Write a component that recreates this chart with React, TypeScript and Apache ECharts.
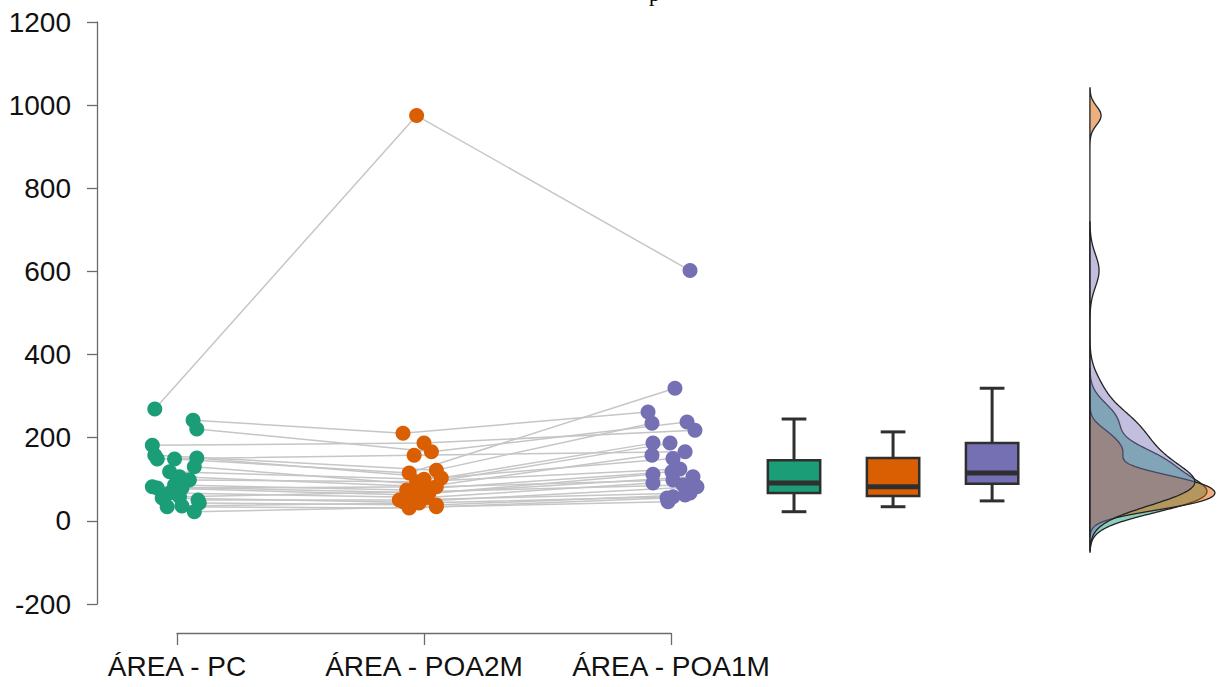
import React, { useEffect, useRef } from 'react';
import * as echarts from 'echarts';

// ---------- data ----------
const categories = ['ÁREA - PC', 'ÁREA - POA2M', 'ÁREA - POA1M'];
const yMin = -200;
const yMax = 1200;
const yStep = 200;

// one entry per subject (same index = same subject, joined by a grey line)
const pcValues = [269, 242, 221, 182, 158, 151, 149, 149, 130, 118, 106, 98, 86, 82, 79, 79, 67, 58, 55, 50, 43, 36, 34, 22];
const pcJitter = [-0.09, 0.065, 0.08, -0.1, -0.09, 0.08, -0.08, -0.01, 0.07, -0.03, 0.01, 0.05, -0.01, -0.1, -0.08, 0.02, -0.03, 0.01, -0.06, 0.085, 0.09, 0.02, -0.04, 0.07];
const poa2mValues = [975, 211, 166, 187, 122, 103, 158, 115, 88, 100, 82, 94, 74, 67, 62, 82, 56, 70, 45, 50, 38, 43, 31, 34];
const poa2mJitter = [-0.03, -0.085, 0.03, 0, 0.05, 0.07, -0.04, -0.06, -0.02, 0, 0.01, -0.03, -0.07, 0.02, -0.05, 0.05, 0.01, -0.03, -0.08, -0.1, 0.05, -0.02, -0.06, 0.05];
const poa1mValues = [602, 262, 238, 218, 235, 187, 166, 319, 187, 150, 158, 125, 118, 106, 112, 98, 91, 86, 82, 67, 62, 58, 55, 46];
const poa1mJitter = [0.077, -0.093, 0.065, 0.097, -0.077, -0.073, 0.057, 0.016, -0.004, 0.008, -0.077, 0.036, 0.004, 0.089, -0.073, 0.008, -0.073, 0.049, 0.105, 0.077, 0.057, 0.008, -0.016, -0.012];

// box plot stats: [lower whisker, Q1, median, Q3, upper whisker]
const pcBox = [22, 67, 91, 146, 245];
const poa2mBox = [34, 60, 82, 151, 214];
const poa1mBox = [48, 89, 115, 187, 319];

// ---------- layout / style ----------
const colors = ['#1b9e77', '#d95f02', '#7570b3'];
const densityFill = ['rgba(27,158,119,0.5)', 'rgba(217,95,2,0.5)', 'rgba(117,112,179,0.45)'];
const xMinU = 0.676;
const xMaxU = 5.2227;
const boxX = [3.498, 3.899, 4.3];
const boxW = 0.212;
const capW = 0.1;
const densBase = 4.696;
const densPeakW = [0.474, 0.506, 0.425];
const FONT = '"Liberation Sans", Arial, sans-serif';

const groups = [
  { values: pcValues, jitter: pcJitter, box: pcBox },
  { values: poa2mValues, jitter: poa2mJitter, box: poa2mBox },
  { values: poa1mValues, jitter: poa1mJitter, box: poa1mBox },
];

// ---------- kernel density (R density() default: gaussian, bw.nrd0, cut = 3) ----------
function quantile(sorted: number[], p: number) {
  const h = (sorted.length - 1) * p;
  const lo = Math.floor(h);
  const hi = Math.min(lo + 1, sorted.length - 1);
  return sorted[lo] + (h - lo) * (sorted[hi] - sorted[lo]);
}
function bwNrd0(x: number[]) {
  const n = x.length;
  const mean = x.reduce((a, b) => a + b, 0) / n;
  const sd = Math.sqrt(x.reduce((a, b) => a + (b - mean) ** 2, 0) / (n - 1));
  const s = [...x].sort((a, b) => a - b);
  const iqr = quantile(s, 0.75) - quantile(s, 0.25);
  const lo = Math.min(sd, iqr / 1.34);
  return 0.9 * lo * Math.pow(n, -0.2);
}
function kde(x: number[]) {
  const bw = bwNrd0(x);
  const from = Math.min(...x) - 3 * bw;
  const to = Math.max(...x) + 3 * bw;
  const N = 300;
  const out: [number, number][] = [];
  const k = 1 / (x.length * bw * Math.sqrt(2 * Math.PI));
  for (let i = 0; i < N; i++) {
    const y = from + ((to - from) * i) / (N - 1);
    let s = 0;
    for (const xi of x) s += Math.exp(-0.5 * ((y - xi) / bw) ** 2);
    out.push([y, s * k]);
  }
  return out;
}

export default function App() {
  const ref = useRef<HTMLDivElement>(null);
  useEffect(() => {
    if (!ref.current) return;
    const chart = echarts.init(ref.current, null, { renderer: 'svg' });

    const dens = groups.map((g) => kde(g.values));
    const dScale = dens.map((d, i) => densPeakW[i] / Math.max(...d.map((p) => p[1])));

    const lineSeries = pcValues.map((_, i) => ({
      type: 'line',
      xAxisIndex: 0,
      yAxisIndex: 0,
      silent: true,
      symbol: 'none',
      z: 1,
      lineStyle: { color: '#c6c6c6', width: 1.5 },
      data: groups.map((g, gi) => [gi + 1 + g.jitter[i], g.values[i]]),
    }));

    const scatterSeries = groups.map((g, gi) => ({
      type: 'scatter',
      xAxisIndex: 0,
      yAxisIndex: 0,
      symbolSize: 15,
      z: 3,
      itemStyle: { color: colors[gi], opacity: 1 },
      data: g.values.map((v, i) => [gi + 1 + g.jitter[i], v]),
    }));

    const boxSeries = {
      type: 'custom',
      xAxisIndex: 0,
      yAxisIndex: 0,
      z: 4,
      clip: false,
      data: groups.map((g) => g.box),
      renderItem: (params: any, api: any) => {
        const i = params.dataIndex;
        const x = boxX[i];
        const lo = api.value(0), q1 = api.value(1), med = api.value(2), q3 = api.value(3), hi = api.value(4);
        const pLo = api.coord([x, lo]);
        const pQ1 = api.coord([x, q1]);
        const pMed = api.coord([x, med]);
        const pQ3 = api.coord([x, q3]);
        const pHi = api.coord([x, hi]);
        const hw = api.size([boxW, 0])[0] / 2;
        const cw = api.size([capW, 0])[0] / 2;
        const stroke = '#2f2f2f';
        return {
          type: 'group',
          children: [
            { type: 'line', shape: { x1: pQ3[0], y1: pQ3[1], x2: pHi[0], y2: pHi[1] }, style: { stroke, lineWidth: 3 } },
            { type: 'line', shape: { x1: pQ1[0], y1: pQ1[1], x2: pLo[0], y2: pLo[1] }, style: { stroke, lineWidth: 3 } },
            { type: 'line', shape: { x1: pHi[0] - cw, y1: pHi[1], x2: pHi[0] + cw, y2: pHi[1] }, style: { stroke, lineWidth: 3 } },
            { type: 'line', shape: { x1: pLo[0] - cw, y1: pLo[1], x2: pLo[0] + cw, y2: pLo[1] }, style: { stroke, lineWidth: 3 } },
            {
              type: 'rect',
              shape: { x: pQ3[0] - hw, y: pQ3[1], width: hw * 2, height: pQ1[1] - pQ3[1] },
              style: { fill: colors[i], stroke, lineWidth: 2.5 },
            },
            { type: 'line', shape: { x1: pMed[0] - hw, y1: pMed[1], x2: pMed[0] + hw, y2: pMed[1] }, style: { stroke, lineWidth: 5 } },
          ],
        };
      },
    };

    const densitySeries = {
      type: 'custom',
      xAxisIndex: 0,
      yAxisIndex: 0,
      z: 2,
      clip: false,
      data: groups.map((_, i) => [i]),
      renderItem: (params: any, api: any) => {
        const i = params.dataIndex;
        const d = dens[i];
        const pts: number[][] = [];
        pts.push(api.coord([densBase, d[0][0]]));
        for (const [y, v] of d) pts.push(api.coord([densBase + v * dScale[i], y]));
        pts.push(api.coord([densBase, d[d.length - 1][0]]));
        return {
          type: 'polygon',
          shape: { points: pts },
          style: { fill: densityFill[i], stroke: '#222', lineWidth: 1.3 },
        };
      },
    };

    chart.setOption({
      animation: false,
      backgroundColor: '#ffffff',
      grid: [
        { left: 97, top: 22, width: 1220 - 97, height: 582 },
        { left: 177, top: 22, width: 494, bottom: 54 },
      ],
      xAxis: [
        { gridIndex: 0, type: 'value', min: xMinU, max: xMaxU, show: false },
        {
          gridIndex: 1,
          type: 'value',
          min: 1,
          max: 3,
          interval: 1,
          axisLine: { show: true, onZero: false, lineStyle: { color: '#6b6b6b', width: 1.3 } },
          axisTick: { show: true, length: 12, lineStyle: { color: '#6b6b6b', width: 1.3 } },
          axisLabel: {
            fontSize: 28,
            color: '#111',
            fontFamily: FONT,
            margin: 19,
            formatter: (v: number) => categories[Math.round(v) - 1] ?? '',
          },
          splitLine: { show: false },
        },
      ],
      yAxis: [
        {
          gridIndex: 0,
          type: 'value',
          min: yMin,
          max: yMax,
          interval: yStep,
          axisLine: { show: true, lineStyle: { color: '#6b6b6b', width: 1.3 } },
          axisTick: { show: true, length: 10, lineStyle: { color: '#6b6b6b', width: 1.3 } },
          axisLabel: {
            fontSize: 28,
            color: '#111',
            fontFamily: FONT,
            margin: 26,
            formatter: (v: number) => String(v),
          },
          splitLine: { show: false },
        },
        { gridIndex: 1, type: 'value', min: 0, max: 1, show: false },
      ],
      graphic: [
        {
          type: 'text',
          x: 649,
          y: 4,
          style: {
            text: 'p',
            fontSize: 22,
            fontFamily: '"Liberation Serif", serif',
            fill: '#000',
            textVerticalAlign: 'bottom',
          },
        },
      ],
      series: [...lineSeries, densitySeries, ...scatterSeries, boxSeries],
    });
    return () => chart.dispose();
  }, []);
  return <div ref={ref} style={{ position: 'fixed', left: 0, top: 0, width: 1220, height: 687 }} />;
}
